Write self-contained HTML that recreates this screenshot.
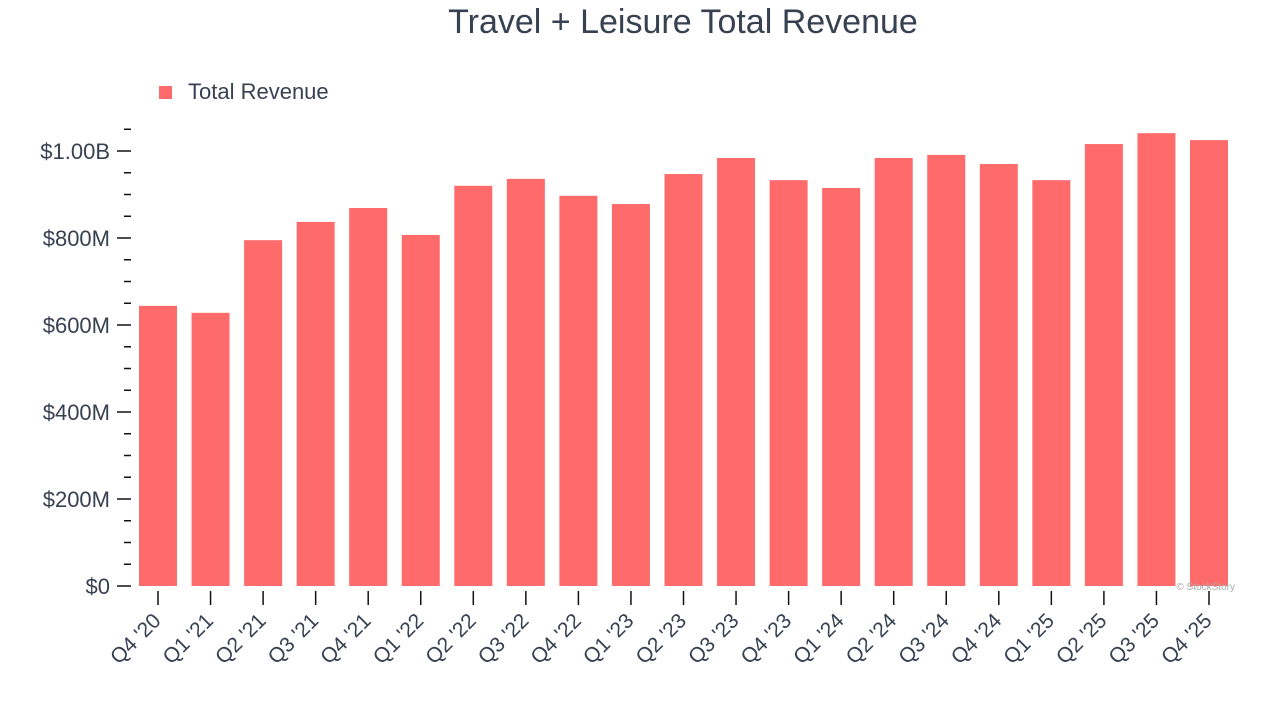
<!DOCTYPE html>
<html><head><meta charset="utf-8"><style>
body{margin:0;background:#fff;width:1280px;height:720px;overflow:hidden;font-family:"Liberation Sans",Arial,sans-serif}
</style></head><body>
<svg id="chart" width="1280" height="720" xmlns="http://www.w3.org/2000/svg">
<text x="683" y="33" text-anchor="middle" font-size="34" fill="#374151">Travel + Leisure Total Revenue</text>
<g>
<rect x="159" y="86" width="13" height="13" fill="#ff6b6b"/>
<text x="188" y="99" font-size="22" fill="#374151">Total Revenue</text>
</g>
<g id="yaxis"></g>
<g id="bars"></g>
<g id="xaxis"></g>
<text x="1235" y="590" text-anchor="end" font-size="10" fill="#aaa">© StockStory</text>
</svg>
<script>
const categories=["Q4 '20","Q1 '21","Q2 '21","Q3 '21","Q4 '21","Q1 '22","Q2 '22","Q3 '22","Q4 '22","Q1 '23","Q2 '23","Q3 '23","Q4 '23","Q1 '24","Q2 '24","Q3 '24","Q4 '24","Q1 '25","Q2 '25","Q3 '25","Q4 '25"];
const revenue=[644,628,795,837,869,807,920,936,897,878,947,984,933,915,984,991,970,933,1016,1041,1025];
const tickValues=[0,200,400,600,800,1000];
const tickLabels=["$0","$200M","$400M","$600M","$800M","$1.00B"];
const NS="http://www.w3.org/2000/svg";
function y(v){return 586-v*0.435;}
function x(i){return 158+i*52.55;}
function mk(t,a,p){const e=document.createElementNS(NS,t);for(const k in a)e.setAttribute(k,a[k]);p.appendChild(e);return e;}
const ya=document.getElementById('yaxis'),bg=document.getElementById('bars'),xa=document.getElementById('xaxis');
for(let v=0;v<=1050;v+=50){
  const major=tickValues.includes(v);
  const t=mk('line',{x1:major?117:124,x2:131,y1:y(v),y2:y(v),stroke:'#111','stroke-width':1.5},ya);
  
  
}
tickValues.forEach((v,i)=>{
  const t=mk('text',{x:110,y:y(v)+8,'text-anchor':'end','font-size':22,fill:'#374151'},ya);
  t.textContent=tickLabels[i];
  
  
});
categories.forEach((c,i)=>{
  const r=mk('rect',{x:x(i)-19,y:y(revenue[i]),width:38,height:586-y(revenue[i]),fill:'#ff6b6b'},bg);
  
  
  const tk=mk('line',{x1:x(i),x2:x(i),y1:591,y2:605,stroke:'#111','stroke-width':1.5},xa);
  
  
  const tl=mk('text',{x:x(i)+4,y:622,'text-anchor':'end','font-size':21,fill:'#374151',transform:`rotate(-45 ${x(i)+4} 622)`},xa);
  tl.textContent=c;
  
  
});
</script>
</body></html>
